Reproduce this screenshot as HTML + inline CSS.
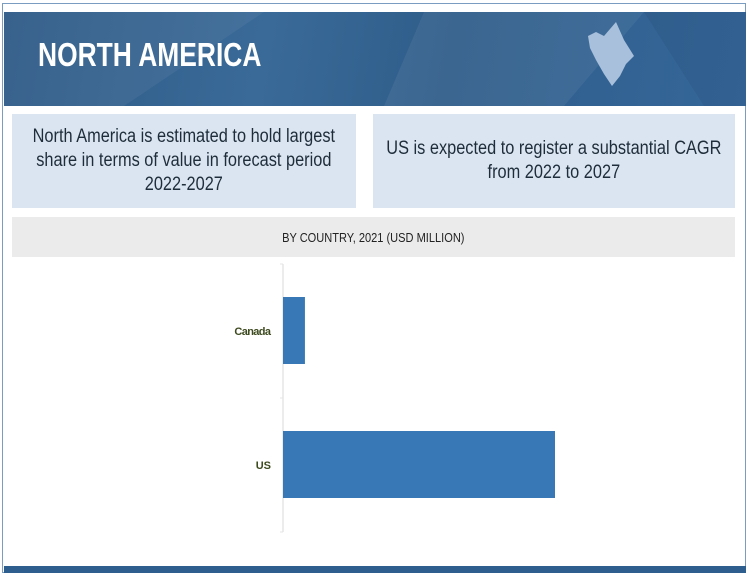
<!DOCTYPE html>
<html><head><meta charset="utf-8">
<style>
body{margin:0;width:750px;height:577px;background:#fff;position:relative;overflow:hidden;font-family:"Liberation Sans",sans-serif;}
.abs{position:absolute;}
#frame{left:2px;top:3px;width:744px;height:570px;border:1px solid #7a9cc0;box-sizing:border-box;}
#header{left:4px;top:12px;width:742px;height:94px;background:linear-gradient(100deg,#2e5a86 0%,#3a6a98 35%,#2f5d8a 60%,#35679a 100%);overflow:hidden;}
#title{left:38px;top:36px;color:#fff;font-weight:bold;font-size:33px;white-space:nowrap;transform:scaleX(0.8);transform-origin:left top;}
.box{background:#dae5f1;color:#1f2d3a;font-size:19px;text-align:center;display:flex;align-items:center;justify-content:center;line-height:24px;}
.box span{display:inline-block;white-space:nowrap;transform:scaleX(0.86);}
#band{left:12px;top:217px;width:723px;height:40px;background:#ebebeb;font-size:13px;color:#222;display:flex;align-items:center;justify-content:center;}
#band span{display:inline-block;white-space:nowrap;transform:scaleX(0.85);}
#bottom{left:4px;top:566px;width:742px;height:7px;background:#2d5e8e;}
</style></head><body>
<div class="abs" id="frame"></div>
<div class="abs" id="header">
<svg width="742" height="94" style="position:absolute;left:0;top:0">
<polygon points="0,0 260,0 120,94 0,94" fill="#ffffff" opacity="0.05"/>
<polygon points="420,0 640,0 560,94 380,94" fill="#ffffff" opacity="0.06"/>
<polygon points="640,0 742,0 742,94 700,94" fill="#000" opacity="0.05"/>
<path d="M584,24 L592,20 L600,24 L612,10 L620,28 L630,44 L622,52 L616,64 L608,74 L600,62 L592,48 L586,36 Z" fill="#a9c0dc"/>
</svg>
</div>
<div class="abs" id="title">NORTH AMERICA</div>
<div class="abs box" style="left:12px;top:114px;width:344px;height:94px;"><span>North America is estimated to hold largest<br>share in terms of value in forecast period<br>2022-2027</span></div>
<div class="abs box" style="left:373px;top:114px;width:362px;height:94px;"><span>US is expected to register a substantial CAGR<br>from 2022 to 2027</span></div>
<div class="abs" id="band"><span>BY COUNTRY, 2021 (USD MILLION)</span></div>
<svg class="abs" id="chart" style="left:0;top:0" width="750" height="577"></svg>
<div class="abs" id="bottom"></div>
<script>
const categories=["Canada","US"];
const values=[100,1240];
const svg=document.getElementById('chart');
const NS='http://www.w3.org/2000/svg';
const x0=283,maxVal=1240,maxPx=272;
const top0=264,bandH=134;
function xScale(v){return x0+v/maxVal*maxPx;}
function yBand(i){return top0+i*bandH;}
const axis=document.createElementNS(NS,'line');


axis.setAttribute('x1',x0);axis.setAttribute('x2',x0);axis.setAttribute('y1',top0);axis.setAttribute('y2',top0+bandH*categories.length);
axis.setAttribute('stroke','#d8d8d8');svg.appendChild(axis);
for(let i=0;i<=categories.length;i++){
 const t=document.createElementNS(NS,'line');
 
 
 t.setAttribute('x1',x0-3);t.setAttribute('x2',x0);t.setAttribute('y1',yBand(i));t.setAttribute('y2',yBand(i));
 t.setAttribute('stroke','#e4e4e4');svg.appendChild(t);
}
categories.forEach((c,i)=>{
 const r=document.createElementNS(NS,'rect');
 
 
 const y=yBand(i)+33;
 r.setAttribute('x',x0);r.setAttribute('y',y);r.setAttribute('width',xScale(values[i])-x0);r.setAttribute('height',67);
 r.setAttribute('fill','#3878b6');svg.appendChild(r);
 const l=document.createElementNS(NS,'text');
 
 
 l.setAttribute('x',271);l.setAttribute('y',y+38);l.setAttribute('text-anchor','end');
 l.setAttribute('font-size','11');l.setAttribute('font-weight','bold');l.setAttribute('fill','#3d4a1e');
 l.setAttribute('font-family','"Liberation Sans",sans-serif');
 if(c.length>3) l.setAttribute('textLength',c.length*6.1);
 l.textContent=c;svg.appendChild(l);
});
</script>
</body></html>
